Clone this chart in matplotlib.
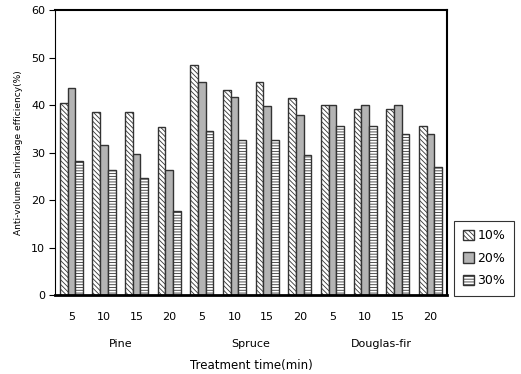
import matplotlib.pyplot as plt
import numpy as np

# data
species = ['Pine', 'Spruce', 'Douglas-fir']
times = ['5', '10', '15', '20']
conc = ['10%', '20%', '30%']
ase_10 = [40.5, 38.6, 38.6, 35.4, 48.4, 43.1, 44.9, 41.4, 40.1, 39.1, 39.1, 35.6]
ase_20 = [43.7, 31.7, 29.8, 26.4, 44.9, 41.6, 39.8, 38.0, 40.1, 40.1, 40.1, 34.0]
ase_30 = [28.3, 26.4, 24.6, 17.7, 34.5, 32.7, 32.7, 29.4, 35.6, 35.6, 34.0, 27.0]

plt.rcParams['hatch.linewidth'] = 0.6
plt.rcParams['font.family'] = ['DejaVu Sans']

fig = plt.figure(figsize=(5.21, 3.74), dpi=100)
ax = fig.add_axes([0.1056, 0.211, 0.752, 0.762])

n = len(ase_10)
x = np.arange(n)
w = 0.235
styles = [dict(color='white', hatch='\\' * 7),
          dict(color='#b4b4b4', hatch=None),
          dict(color='white', hatch='-' * 6)]
handles = []
for i, (vals, st) in enumerate(zip([ase_10, ase_20, ase_30], styles)):
    b = ax.bar(x + (i - 1) * w, vals, w, color=st['color'], hatch=st['hatch'],
               edgecolor='#333333', linewidth=1.0, label=conc[i])
    handles.append(b)

ax.set_xlim(-0.5, n - 0.5)
ax.set_ylim(0, 60)
ax.set_yticks(range(0, 61, 10))
ax.tick_params(axis='y', labelsize=8, length=4, width=0.8, direction='out', pad=3)
ax.set_xticks(x)
ax.set_xticklabels(times * 3, fontsize=8)
ax.tick_params(axis='x', length=0, pad=12)
for s in ['top', 'right']:
    ax.spines[s].set_linewidth(1.5)
ax.spines['left'].set_linewidth(0.8)
ax.spines['bottom'].set_linewidth(2.0)

for k, sp in enumerate(species):
    ax.text(4 * k + 1.5, -10.4, sp, ha='center', va='center', fontsize=8)
ax.text(5.5, -14.8, 'Treatment time(min)', ha='center', va='center', fontsize=8.5)
ax.set_ylabel('Anti-volume shrinkage efficiency(%)', fontsize=6.5, labelpad=6)

leg = fig.legend(handles=handles, loc='lower left', bbox_to_anchor=(0.871, 0.209),
                 borderaxespad=0, fontsize=9, frameon=True, fancybox=False,
                 handlelength=0.9, handleheight=0.9, handletextpad=0.3,
                 labelspacing=0.75, borderpad=0.7)
leg.get_frame().set_edgecolor('black')
leg.get_frame().set_linewidth(0.8)

fig.savefig('out.png', dpi=100)
